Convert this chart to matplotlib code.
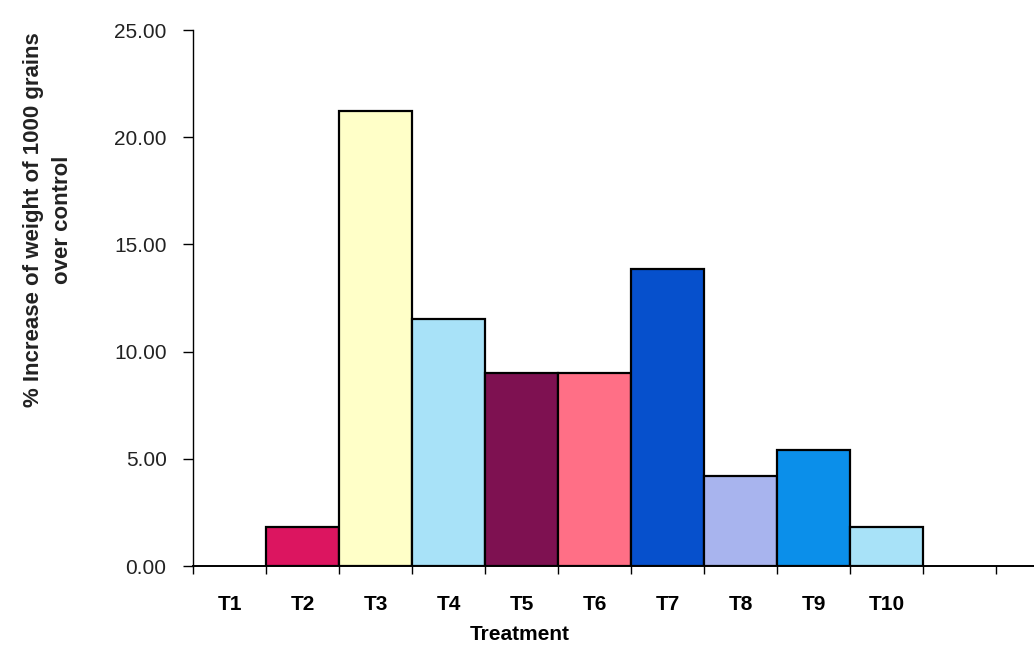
import matplotlib
matplotlib.use("Agg")
import matplotlib.pyplot as plt
from matplotlib.ticker import FixedLocator, FixedFormatter

plt.rcParams["font.family"] = ["Liberation Sans", "DejaVu Sans"]

# data
treatments = ["T1", "T2", "T3", "T4", "T5", "T6", "T7", "T8", "T9", "T10"]
increase = [0.0, 1.82, 21.24, 11.51, 9.02, 9.02, 13.85, 4.22, 5.42, 1.82]
bar_colors = ["#FFFFFF", "#DC1560", "#FFFFC8", "#A8E2F8", "#7E1151",
              "#FF6F86", "#0650CC", "#A8B4EE", "#0B8FEA", "#A8E2F8"]
yticks = [0, 5, 10, 15, 20, 25]

fig = plt.figure(figsize=(10.34, 6.47), dpi=100)
ax = fig.add_axes([193 / 1034, 1 - 566 / 647, 1 - 193 / 1034, (566 - 30) / 647])

x = list(range(len(treatments)))
for xi, v, c in zip(x, increase, bar_colors):
    if v > 0:
        ax.bar(xi, v, width=1.0, color=c, edgecolor="black", linewidth=1.6, zorder=2)

ax.set_xlim(-0.5, 11.02)
ax.set_ylim(0, 25)

# spines
for s in ["top", "right"]:
    ax.spines[s].set_visible(False)
ax.spines["left"].set_linewidth(1.0)
ax.spines["bottom"].set_linewidth(1.4)

# y ticks
ax.set_yticks(yticks)
ax.set_yticklabels([f"{t:.2f}" for t in yticks], fontsize=15, color="#222222")
ax.tick_params(axis="y", direction="out", length=7, width=1, pad=12)

# x ticks: labels at centers, tick marks at category boundaries
ax.xaxis.set_major_locator(FixedLocator(x))
ax.xaxis.set_major_formatter(FixedFormatter(treatments))
ax.xaxis.set_minor_locator(FixedLocator([i - 0.5 for i in range(12)]))
ax.tick_params(axis="x", which="major", length=0, pad=21)
ax.tick_params(axis="x", which="minor", direction="out", length=6, width=1)
for lbl in ax.get_xticklabels():
    lbl.set_fontweight("bold")
    lbl.set_fontsize(15)

ax.set_xlabel("Treatment", fontsize=15, fontweight="bold")
ax.xaxis.set_label_coords((520 - 193) / (1034 - 193), -(635 - 566) / 536, )
ax.xaxis.label.set_va("center")
ax.set_ylabel("% Increase of weight of 1000 grains\nover control",
              fontsize=16, fontweight="bold", color="#222222", linespacing=1.45)
ax.yaxis.set_label_coords(-(193 - 48) / (1034 - 193), (566 - 220) / 536)
ax.yaxis.label.set_va("center")

fig.savefig("out.png", dpi=100, facecolor="white")
